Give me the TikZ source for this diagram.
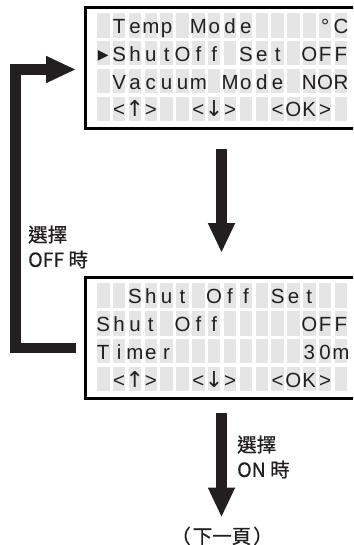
\documentclass[tikz,border=0pt]{standalone}
\usepackage{fontspec}
\setmainfont{Liberation Sans}
\newfontfamily\cjk[FakeBold=0.7]{Noto Sans CJK TC}
\newfontfamily\symb{DejaVu Sans}
\usepackage{xcolor}
\usepackage{tikz}
\usetikzlibrary{arrows.meta, positioning, calc}
\definecolor{lcdgray}{RGB}{229,229,229}
\definecolor{lcdtext}{RGB}{35,31,32}

% one row of 16 character cells: name, top of screen, row, characters
\newcommand{\lcdrow}[4]{%
  \foreach \ch [count=\col from 0] in {#4} {
    \fill[lcdgray] ({97+15.85*\col},{#2+13.3+27.8*#3}) rectangle +(12.5,24.4);
    \node[lcdchar] (#1-#3-\col) at ({103.25+15.85*\col},{#2+33.6+27.8*#3}) {\ch};
  }}
\newcommand{\cursor}{\raisebox{2pt}{\symb\fontsize{14}{14}\selectfont ▶}}
\newcommand{\up}{{\symb\fontsize{22}{22}\selectfont ↑}}
\newcommand{\down}{{\symb\fontsize{22}{22}\selectfont ↓}}

\begin{document}
\begin{tikzpicture}[x=1pt, y=-1pt,
      screen/.style={draw=black, line width=3pt, minimum width=272pt,
                     minimum height=121pt, inner sep=0pt},
      lcdchar/.style={inner sep=0pt, anchor=base, text=lcdtext,
                      font=\fontsize{20.5}{24}\selectfont},
      bigarrow/.style={draw=lcdtext, line width=10.5pt,
                       -{Triangle[length=30pt, width=25pt]}},
      steplabel/.style={font=\cjk\fontsize{19.5}{25}\selectfont,
                        align=left, inner sep=0pt, text=lcdtext}]

    \useasboundingbox (0,0) rectangle (353,545);
    \clip (0,0) rectangle (353,545);

    \node[screen] (scr1) at (221.5,68) {};
    \node[screen, below=146pt of scr1] (scr2) {};

    % menu screen
    \lcdrow{scr1}{0}{0}{{},T,e,m,p,{},M,o,d,e,{},{},{},{},°,C}
    \lcdrow{scr1}{0}{1}{\cursor,S,h,u,t,O,f,f,{},S,e,t,{},O,F,F}
    \lcdrow{scr1}{0}{2}{{},V,a,c,u,u,m,{},M,o,d,e,{},N,O,R}
    \lcdrow{scr1}{0}{3}{{},<,\up,>,{},{},<,\down,>,{},{},<,O,K,>,{}}

    % shut off screen
    \lcdrow{scr2}{270}{0}{{},{},S,h,u,t,{},O,f,f,{},S,e,t,{},{}}
    \lcdrow{scr2}{270}{1}{S,h,u,t,{},O,f,f,{},{},{},{},{},O,F,F}
    \lcdrow{scr2}{270}{2}{T,i,m,e,r,{},{},{},{},{},{},{},{},3,0,m}
    \lcdrow{scr2}{270}{3}{{},<,\up,>,{},{},<,\down,>,{},{},<,O,K,>,{}}

    \node[steplabel, anchor=west] (offlbl) at (28,247) {選擇\\OFF 時};
    \node[steplabel, anchor=west] (onlbl) at (237,457) {選擇\\ON 時};
    \node[steplabel, font=\cjk\fontsize{19.5}{19.5}\selectfont] (nextpage) at (222,536)
      {（\hspace{2pt}下一頁\hspace{2pt}）};

    \draw[bigarrow, shorten <=19pt, shorten >=23pt] (scr1.south) -- (scr2.north);
    \draw[bigarrow, shorten <=13pt, shorten >=9pt] (scr2.south) -- (scr2.south |- nextpage.north);
    \draw[bigarrow] ([xshift=-8pt, yshift=-10pt]scr2.west) -- ++(-60.5pt,0)
                    |- ([xshift=-8pt, yshift=-1.5pt]scr1.west);
  \end{tikzpicture}
\end{document}
